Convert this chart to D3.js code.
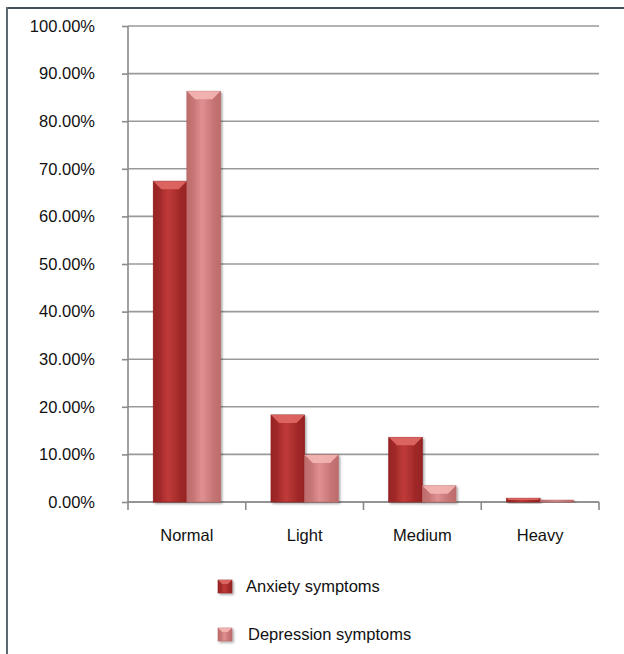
<!DOCTYPE html>
<html><head><meta charset="utf-8">
<script src="https://cdn.jsdelivr.net/npm/d3@7"></script>
<style>body{margin:0;background:#fff}svg{display:block;font-family:"Liberation Sans",Arial,sans-serif}</style>
</head><body>
<svg id="c" width="624" height="654"></svg>
<script>
const categories = ["Normal", "Light", "Medium", "Heavy"];
const seriesNames = ["Anxiety symptoms", "Depression symptoms"];
const anxiety = [67.4, 18.3, 13.6, 0.8];
const depression = [86.3, 9.9, 3.4, 0.4];
const yTicks = [0,10,20,30,40,50,60,70,80,90,100];

const svg = d3.select("#c");
const m = {left:128, right:599, top:26, bottom:502};
const FS = 16.5;

// frame
svg.append("line").attr("x1",7).attr("x2",624).attr("y1",8).attr("y2",8).attr("stroke","#3f5059").attr("stroke-width",2);
svg.append("line").attr("x1",7).attr("x2",7).attr("y1",7).attr("y2",654).attr("stroke","#5a6870").attr("stroke-width",2);

const x = d3.scaleBand().domain(categories).range([m.left, m.right]).paddingInner(0).paddingOuter(0);
const xs = d3.scaleBand().domain(seriesNames).range([0, x.bandwidth()]).paddingInner(0).paddingOuter(0.75);
const y = d3.scaleLinear().domain([0,100]).range([m.bottom, m.top]);

// gridlines
svg.append("g").selectAll("line").data(yTicks).join("line")
  .attr("x1", m.left).attr("x2", m.right)
  .attr("y1", d=>y(d)).attr("y2", d=>y(d))
  .attr("stroke","#9a9a9a").attr("stroke-width",1.6);

// y axis
const ya = svg.append("g").attr("transform",`translate(${m.left},0)`)
  .call(d3.axisLeft(y).tickValues(yTicks).tickFormat(d=>d.toFixed(2)+"%").tickSize(6).tickPadding(27));
ya.select(".domain").attr("stroke","#8a8a8a").attr("stroke-width",1.6).attr("d",`M0,${m.top}V${m.bottom}`);
ya.selectAll(".tick line").attr("stroke","#8a8a8a").attr("stroke-width",1.6).attr("x1",-6).attr("x2",0);
ya.selectAll("text").attr("font-size",FS).attr("fill","#111").attr("font-family","'Liberation Sans',Arial,sans-serif");

// x axis
const xa = svg.append("g").attr("transform",`translate(0,${m.bottom})`)
  .call(d3.axisBottom(x).tickSize(0).tickPadding(27));
xa.select(".domain").remove();
xa.selectAll("text").attr("font-size",FS).attr("fill","#111").attr("font-family","'Liberation Sans',Arial,sans-serif");
const bounds = categories.map(c=>x(c)).concat([m.right]);
svg.append("line").attr("x1",m.left).attr("x2",m.right).attr("y1",m.bottom).attr("y2",m.bottom).attr("stroke","#8a8a8a").attr("stroke-width",1.6);
svg.append("g").selectAll("line").data(bounds).join("line")
  .attr("x1",d=>d).attr("x2",d=>d).attr("y1",m.bottom).attr("y2",m.bottom+8)
  .attr("stroke","#8a8a8a").attr("stroke-width",1.6);

// gradients
const defs = svg.append("defs");
const pal = {
  "Anxiety symptoms": {edge:"#8e1f1f", mid:"#c03a38", top:"#e06a66", side:"#a02828"},
  "Depression symptoms": {edge:"#b56464", mid:"#e09090", top:"#f4b6b2", side:"#c67474"}
};
seriesNames.forEach((s,i)=>{
  const g = defs.append("linearGradient").attr("id","g"+i).attr("x1","0").attr("x2","1").attr("y1","0").attr("y2","0");
  g.append("stop").attr("offset","0").attr("stop-color",pal[s].edge);
  g.append("stop").attr("offset","0.45").attr("stop-color",pal[s].mid);
  g.append("stop").attr("offset","1").attr("stop-color",pal[s].edge);
});
const f = defs.append("filter").attr("id","sh").attr("x","-20%").attr("y","-20%").attr("width","150%").attr("height","150%");
f.append("feDropShadow").attr("dx",1.5).attr("dy",1.5).attr("stdDeviation",1.2).attr("flood-color","#000").attr("flood-opacity",0.35);

const data = [];
categories.forEach((c,ci)=>{
  data.push({cat:c, s:seriesNames[0], v:anxiety[ci], i:0});
  data.push({cat:c, s:seriesNames[1], v:depression[ci], i:1});
});

function drawBar(g, d, legendBox){
  let x0,y0,w,h;
  if(legendBox){ [x0,y0,w,h] = legendBox; }
  else { x0 = x(d.cat)+xs(d.s); w = xs.bandwidth(); y0 = y(d.v); h = y(0)-y(d.v); }
  const p = pal[d.s];
  const gg = g.append("g").attr("filter","url(#sh)");
  gg.append("rect").attr("x",x0).attr("y",y0).attr("width",w).attr("height",h).attr("fill",`url(#g${d.i})`)
    .attr("stroke",p.edge).attr("stroke-width",0.6);
  const b = Math.min(legendBox?4:8, h/2, w/2);
  if(h>2){
    gg.append("path").attr("d",`M${x0},${y0}H${x0+w}L${x0+w-b},${y0+b}H${x0+b}Z`).attr("fill",p.top).attr("opacity",0.9);
    gg.append("path").attr("d",`M${x0},${y0}L${x0+b},${y0+b}V${y0+h}H${x0}Z`).attr("fill",p.side).attr("opacity",0.5);
    gg.append("path").attr("d",`M${x0+w},${y0}L${x0+w-b},${y0+b}V${y0+h}H${x0+w}Z`).attr("fill",p.side).attr("opacity",0.5);
  }
}
const bars = svg.append("g");
data.forEach(d=>drawBar(bars,d));

// legend
const leg = svg.append("g");
const legY = [586, 634];
seriesNames.forEach((s,i)=>{
  drawBar(leg,{s:s,i:i},[218, legY[i]-6, 14, 13]);
  leg.append("text").attr("x", i===0?246:248).attr("y",legY[i]).attr("dy","0.35em")
    .attr("font-size",FS).attr("fill","#111").text(s);
});
</script>
</body></html>
